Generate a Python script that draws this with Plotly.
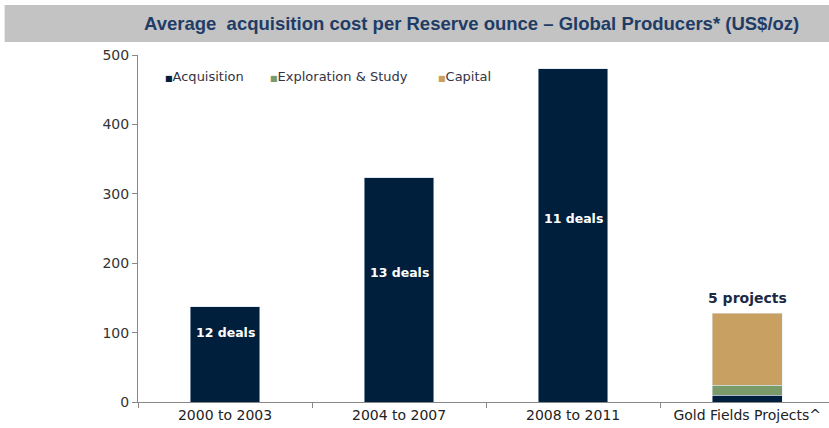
import plotly.graph_objects as go

# ------Data--------

categories = ["2000 to 2003", "2004 to 2007", "2008 to 2011", "Gold Fields Projects^"]
acquisition = [137, 324, 480, 10]
exploration = [0, 0, 0, 14]
capital = [0, 0, 0, 104]
bar_labels = ["12 deals", "13 deals", "11 deals", "5 projects"]
label_y = [100, 187, 265, 150]

title = "Average  acquisition cost per Reserve ounce \u2013 Global Producers* (US$/oz)"

navy = "#001F3D"
green = "#7A9A6A"
tan = "#C8A062"

series = [("Acquisition", acquisition, navy),
          ("Exploration & Study", exploration, green),
          ("Capital", capital, tan)]

# ------Graph Generation--------

fig = go.Figure()
for name, vals, col in series:
    fig.add_trace(go.Bar(x=categories, y=vals, name=name, marker_color=col, showlegend=False))

for i, (cat, txt) in enumerate(zip(categories, bar_labels)):
    inside = i < 3
    fig.add_annotation(x=cat, y=label_y[i], text="<b>%s</b>" % txt, showarrow=False,
                       font=dict(family="DejaVu Sans", size=12.5 if inside else 14,
                                 color="white" if inside else "#1A2A44"))

# --------Legend (Excel style, small squares) -----------

legend_x = [0.036, 0.188, 0.431]
for (name, vals, col), lx in zip(series, legend_x):
    fig.add_annotation(xref="paper", yref="paper", x=lx, y=0.937, xanchor="left", yanchor="middle",
                       text="<span style='color:%s;font-size:8px'>\u25A0</span>%s" % (col, name),
                       showarrow=False, font=dict(family="DejaVu Sans", size=13, color="#333344"))

# --------Title band -----------

fig.add_shape(type="rect", xref="paper", yref="paper", x0=-0.193, x1=1.0, y0=1.0375, y1=1.144,
              fillcolor="#C3C3C3", line_width=0, layer="below")
fig.add_annotation(xref="paper", yref="paper", x=0.482, y=1.092, text="<b>%s</b>" % title,
                   showarrow=False, xanchor="center", yanchor="middle",
                   font=dict(family="Liberation Sans", size=18.5, color="#1F3C66"))

# --------Layout Updates -----------

fig.update_layout(
    barmode="stack",
    bargap=0.6,
    width=829, height=428,
    margin=dict(l=138, r=0, t=55, b=26),
    plot_bgcolor="white",
    paper_bgcolor="white",
    font=dict(family="DejaVu Sans", size=14, color="#222222"),
    showlegend=False,
)

fig.update_xaxes(range=[-0.5, 3.47], showline=True, linewidth=1, linecolor="#888888",
                 ticks="outside", tickson="boundaries", ticklen=5, tickcolor="#888888",
                 tickfont=dict(size=14, color="#222222"), showgrid=False)
fig.update_yaxes(range=[0, 500], dtick=100, showline=True, linewidth=1, linecolor="#888888",
                 ticks="outside", ticklen=5, tickcolor="#888888", showgrid=False,
                 zeroline=False, tickfont=dict(size=14, color="#333333"))

fig.write_html("out.html", config={"displayModeBar": False},
               post_script="document.body.style.margin='0';")
